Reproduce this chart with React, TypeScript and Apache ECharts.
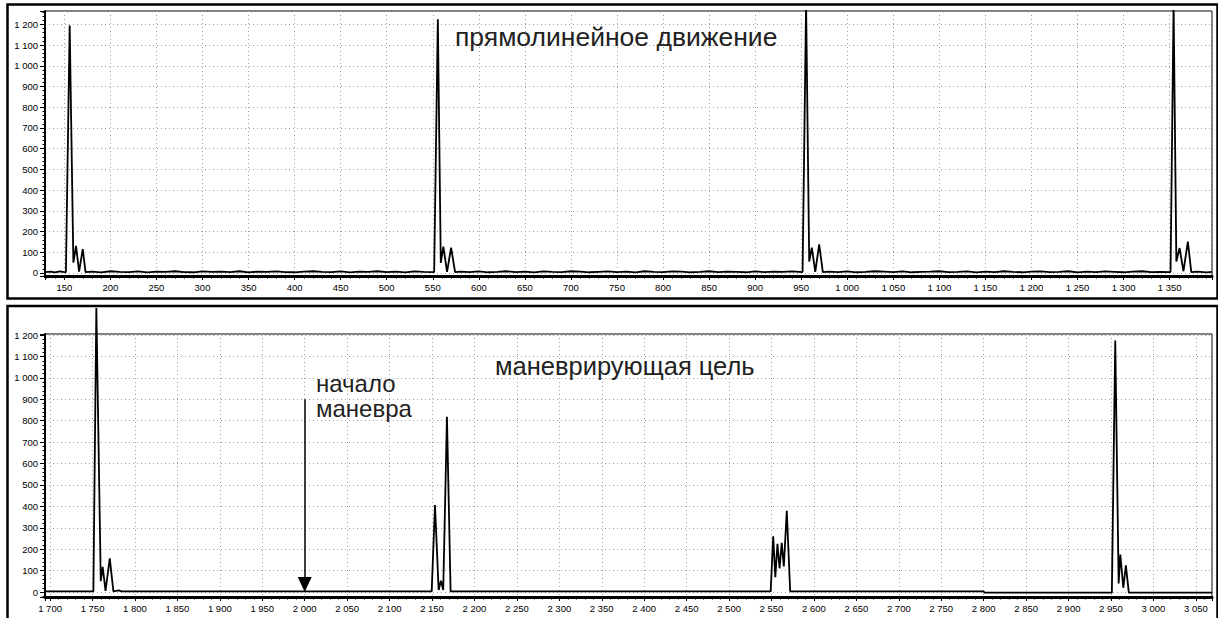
import React, { useEffect, useRef } from "react";
import * as echarts from "echarts";

// ---- top panel: straight-line motion ----
const topX = [
  129, 135, 140, 145, 150, 151.7, 155.8, 159.8, 162.7, 166, 170, 173,
  180, 190, 200, 210, 220, 230, 240, 250, 260, 270, 280, 290, 300, 310, 320, 330, 340, 350, 360, 370,
  380, 390, 400, 410, 420, 430, 440, 450, 460, 470, 480, 490, 500, 510, 520, 530, 540,
  551.5, 555.5, 558.7, 561.5, 565.5, 569.9, 574.2,
  580, 590, 600, 610, 620, 630, 640, 650, 660, 670, 680, 690, 700, 710, 720, 730, 740, 750, 760, 770,
  780, 790, 800, 810, 820, 830, 840, 850, 860, 870, 880, 890, 900, 910, 920, 930, 940,
  951.5, 955.3, 958.7, 961.5, 965.3, 969.5, 973.5,
  980, 990, 1000, 1010, 1020, 1030, 1040, 1050, 1060, 1070, 1080, 1090, 1100, 1110, 1120, 1130, 1140,
  1150, 1160, 1170, 1180, 1190, 1200, 1210, 1220, 1230, 1240, 1250, 1260, 1270, 1280, 1290, 1300,
  1310, 1320, 1330, 1340,
  1351, 1354.3, 1357.3, 1360.8, 1365, 1369.8, 1373.5,
  1380, 1390, 1396,
];
const topY = [
  4, 6, 3, 7, 4, 3, 1195, 50, 130, 6, 115, 4,
  6, 3, 8, 5, 4, 7, 3, 6, 5, 8, 4, 3, 7, 5, 6, 4, 8, 3, 6, 5,
  7, 4, 3, 6, 8, 5, 4, 7, 3, 6, 5, 8, 4, 6, 3, 7, 5,
  4, 1225, 48, 127, 5, 122, 4,
  6, 4, 7, 3, 5, 8, 4, 6, 3, 7, 5, 4, 8, 6, 3, 5, 7, 4, 6, 3,
  8, 5, 4, 7, 6, 3, 5, 8, 4, 6, 5, 3, 7, 4, 6, 5, 7,
  4, 1300, 55, 122, 5, 138, 4,
  6, 4, 7, 3, 5, 8, 6, 4, 7, 3, 5, 6, 8, 4, 5, 7, 3,
  6, 4, 8, 5, 3, 6, 7, 4, 5, 8, 3, 6, 4, 7, 5, 3,
  6, 8, 4, 5,
  4, 1300, 55, 120, 8, 151, 4,
  6, 3, 5,
];

// ---- bottom panel: manoeuvring target ----
const bottomX = [
  1694, 1720, 1751, 1754.5, 1759.7, 1762, 1765.3, 1770.3, 1774.6, 1781, 1784,
  1850, 1950, 2050, 2149.6, 2153.5, 2157.8, 2160.5, 2163.2, 2167.6, 2171.9,
  2250, 2350, 2450, 2549, 2552, 2554.5, 2557, 2559.5, 2562, 2564.5, 2568, 2572,
  2650, 2750, 2800, 2801, 2900, 2951, 2955, 2959, 2961, 2964.5, 2967.5, 2971,
  3020, 3069,
];
const bottomY = [
  3, 3, 3, 1326, 51, 118, 6, 157, 3, 8, 3,
  3, 3, 3, 3, 406, 10, 53, 10, 818, 3,
  3, 3, 3, 3, 260, 70, 225, 110, 230, 120, 380, 3,
  3, 3, 3, -3, -3, -3, 1175, 40, 175, 20, 125, -3,
  -3, -3,
];

const topXRange = [129, 1396];
const bottomXRange = [1694, 3069];
const topYRange = [-15, 1265];
const bottomYRange = [-23, 1205];
const arrowFrom = [2000, 900];
const arrowTo = [2000, 35];

const topTitle = "прямолинейное движение";
const bottomTitle = "маневрирующая цель";
const arrowLabel = "начало\nманевра";

const FONT = '"Liberation Sans", Arial, sans-serif';

function fmt(v: number): string {
  return String(Math.round(v)).replace(/\B(?=(\d{3})+(?!\d))/g, " ");
}

function zip(xs: number[], ys: number[]) {
  return xs.map((x, i) => [x, ys[i]]);
}

const gridLine = { show: true, lineStyle: { color: "#a0a0a0", type: [1, 3], width: 1 } };

function xAxis(gridIndex: number, range: number[]) {
  return {
    type: "value",
    gridIndex,
    min: range[0],
    max: range[1],
    minInterval: 50,
    maxInterval: 50,
    axisLine: { show: true, onZero: false, lineStyle: { color: "#000", width: 3 } },
    axisTick: { show: true, length: 4, lineStyle: { color: "#000", width: 1 } },
    minorTick: { show: true, splitNumber: 5, length: 2.5, lineStyle: { color: "#000", width: 1 } },
    axisLabel: {
      showMinLabel: false,
      showMaxLabel: false,
      margin: 6,
      fontSize: 9.5,
      fontFamily: FONT,
      color: "#000",
      formatter: fmt,
    },
    splitLine: gridLine,
  };
}

function yAxis(gridIndex: number, range: number[]) {
  return {
    type: "value",
    gridIndex,
    min: range[0],
    max: range[1],
    minInterval: 100,
    maxInterval: 100,
    axisLine: { show: true, onZero: false, lineStyle: { color: "#000", width: 2 } },
    axisTick: { show: true, length: 5, lineStyle: { color: "#000", width: 1 } },
    minorTick: { show: true, splitNumber: 5, length: 2.5, lineStyle: { color: "#000", width: 1 } },
    axisLabel: {
      showMinLabel: false,
      showMaxLabel: false,
      margin: 7,
      fontSize: 9.5,
      fontFamily: FONT,
      color: "#000",
      formatter: fmt,
    },
    splitLine: gridLine,
  };
}

function textEl(text: string, x: number, y: number, size: number, lineHeight?: number) {
  return {
    type: "text",
    x,
    y,
    z: 100,
    style: {
      text,
      fontSize: size,
      lineHeight: lineHeight || size * 1.2,
      fontFamily: FONT,
      fill: "#222",
      align: "left",
      verticalAlign: "middle",
      textAlign: "left",
      textVerticalAlign: "middle",
    },
  };
}

export default function App() {
  const ref = useRef<HTMLDivElement>(null);
  useEffect(() => {
    if (!ref.current) return;
    const chart = echarts.init(ref.current, null, { renderer: "svg" });
    chart.setOption({
      animation: false,
      backgroundColor: "#fff",
      grid: [
        { left: 45, top: 11, width: 1167, height: 265, show: true, borderColor: "#000", borderWidth: 1, backgroundColor: "transparent" },
        { left: 45, top: 334, width: 1167, height: 263, show: true, borderColor: "#000", borderWidth: 1, backgroundColor: "transparent" },
      ],
      xAxis: [xAxis(0, topXRange), xAxis(1, bottomXRange)],
      yAxis: [yAxis(0, topYRange), yAxis(1, bottomYRange)],
      series: [
        {
          type: "line",
          xAxisIndex: 0,
          yAxisIndex: 0,
          data: zip(topX, topY),
          showSymbol: false,
          symbol: "none",
          clip: true,
          lineStyle: { color: "#000", width: 1.8 },
        },
        {
          type: "line",
          xAxisIndex: 1,
          yAxisIndex: 1,
          data: zip(bottomX, bottomY),
          showSymbol: false,
          symbol: "none",
          clip: false,
          lineStyle: { color: "#000", width: 1.8 },
          markLine: {
            silent: true,
            animation: false,
            symbol: ["none", "triangle"],
            symbolSize: [14, 15],
            label: { show: false },
            lineStyle: { color: "#000", width: 1.5, type: "solid" },
            data: [[{ coord: arrowFrom }, { coord: arrowTo }]],
          },
        },
      ],
      graphic: [
        { type: "rect", z: 50, shape: { x: 7.5, y: 4.5, width: 1210, height: 294 }, style: { fill: "none", stroke: "#000", lineWidth: 2.5 } },
        { type: "rect", z: 50, shape: { x: 7.5, y: 306, width: 1210, height: 320 }, style: { fill: "none", stroke: "#000", lineWidth: 2.5 } },
        textEl(topTitle, 455, 37, 26.5),
        textEl(bottomTitle, 495, 366, 25.5),
        textEl(arrowLabel, 316, 396, 24, 25),
      ],
    });
    return () => chart.dispose();
  }, []);
  return (
    <div
      ref={ref}
      style={{ position: "absolute", left: 0, top: 0, width: 1218, height: 618, background: "#fff" }}
    />
  );
}
